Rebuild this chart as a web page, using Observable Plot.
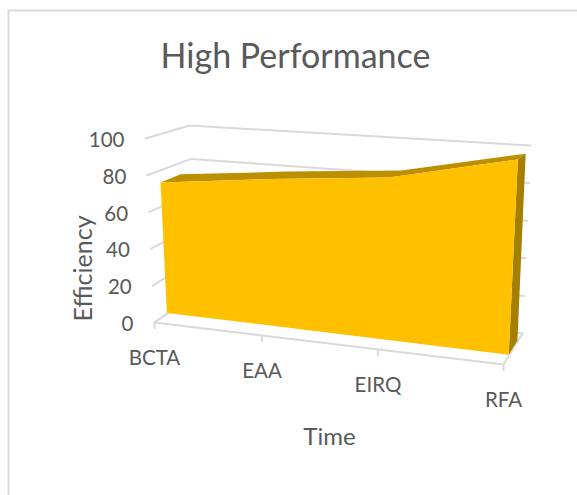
<!DOCTYPE html>
<html>
<head>
<meta charset="utf-8">
<style>html,body{margin:0;background:#fff}svg{display:block}</style>
<script src="https://cdn.jsdelivr.net/npm/d3@7"></script>
<script src="https://cdn.jsdelivr.net/npm/@observablehq/plot@0.6"></script>
</head>
<body>
<script>
const categories = ["BCTA", "EAA", "EIRQ", "RFA"];
const efficiency = [73, 79, 84, 97];
const valueTicks = [0, 20, 40, 60, 80, 100];

const W = 577, H = 495;
const grid = "#d9d9d9", ink = "#595959";

// Screen corners of the 3D chart box: [category end, value end, depth end].
const corners = {
  "0,0,0": [154, 322], "0,1,0": [145, 138],
  "0,0,1": [197, 292], "0,1,1": [189, 125],
  "1,0,1": [522, 333], "1,1,1": [530, 145],
  "1,0,0": [503, 364], "1,1,0": [513, 157]
};
const catScale = d3.scaleLinear().domain([0, categories.length - 1]).range([0, 1]);
const valScale = d3.scaleLinear().domain([0, 100]).range([0, 1]);
const persp = (c, z) => 1 - 0.11 * c + 0.1 * z;

// Rational trilinear mapping of box coordinates, giving a perspective view.
function project(i, v, z) {
  const c = catScale(i), t = valScale(v);
  let sx = 0, sy = 0, sw = 0;
  for (const a of [0, 1]) for (const b of [0, 1]) for (const d of [0, 1]) {
    const w = (a ? c : 1 - c) * (b ? t : 1 - t) * (d ? z : 1 - z) * persp(a, d);
    const p = corners[`${a},${b},${d}`];
    sx += p[0] * w; sy += p[1] * w; sw += w;
  }
  return [sx / sw, sy / sw];
}

const last = categories.length - 1;
const zFront = 0.28, zBack = 0.74;
const pts = categories.map((name, i) => ({name, i, v: efficiency[i]}));

// Band between two box positions, drawn with Plot.area's paired channels.
const band = (rows, a, b, fill) => Plot.area(rows, {
  x1: d => a(d)[0], y1: d => a(d)[1],
  x2: d => b(d)[0], y2: d => b(d)[1],
  fill
});

// Path of a gridline: along the left wall, then along the back wall.
const wallPath = v => [project(0, v, 0), project(0, v, 1), project(last, v, 1)];
const polyline = (path) => Plot.line(path, {x: d => d[0], y: d => d[1], stroke: grid, strokeWidth: 2});

const marks = [
  Plot.ruleY([10], {x1: 8, x2: W, stroke: grid, strokeWidth: 2}),
  Plot.ruleX([8], {y1: 10, y2: H, stroke: grid, strokeWidth: 2}),

  ...valueTicks.map(v => polyline(wallPath(v))),
  polyline([project(0, 0, 1), project(0, 0, 0), project(last, 0, 0), project(last, 0, 1)]),
  Plot.ruleX(pts, {
    x: d => project(d.i, 0, 0)[0],
    y1: d => project(d.i, 0, 0)[1],
    y2: d => project(d.i, 0, 0)[1] + 7,
    stroke: grid, strokeWidth: 2
  }),

  // Right-hand end cap of the area
  band([{v: 0}, {v: efficiency[last]}],
    d => project(last, d.v, zFront), d => project(last, d.v, zBack), "#a67e00"),
  // Top ribbon
  band(pts, d => project(d.i, d.v, zFront), d => project(d.i, d.v, zBack), "#bc8f00"),
  // Front face
  band(pts, d => project(d.i, 0, zFront), d => project(d.i, d.v, zFront), "#ffc000"),

  Plot.text(valueTicks, {
    x: v => project(0, v, 0)[0], y: v => project(0, v, 0)[1], text: d => String(d),
    dx: -21, dy: 2, textAnchor: "end", fontSize: 20.5, fill: ink
  }),
  Plot.text(pts, {
    x: d => project(d.i, 0, 0)[0], y: d => project(d.i, 0, 0)[1], text: "name",
    dy: 36, fontSize: 20.5, fill: ink
  }),
  Plot.text(["High Performance"], {x: 295, y: 57, text: d => d, fontSize: 34, fill: ink}),
  Plot.text(["Time"], {x: 329, y: 437, text: d => d, fontSize: 24, fill: ink}),
  Plot.text(["Efficiency"], {x: 83, y: 268, text: d => d, rotate: -90, fontSize: 25, fill: ink})
];

const chart = Plot.plot({
  width: W, height: H, margin: 0,
  style: {fontFamily: "Lato, sans-serif", background: "#fff"},
  x: {domain: [0, W], range: [0, W], axis: null},
  y: {domain: [0, H], range: [0, H], axis: null},
  marks
});
document.body.append(chart);
</script>
</body>
</html>
